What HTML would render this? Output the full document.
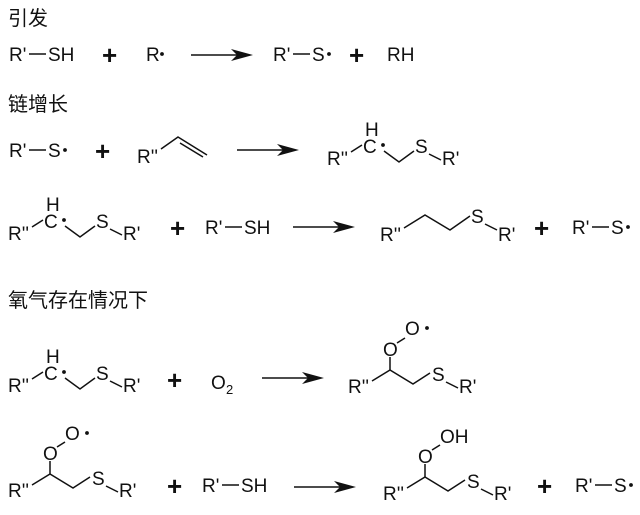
<!DOCTYPE html>
<html><head><meta charset="utf-8"><style>
html,body{margin:0;padding:0;background:#fff;}
svg{display:block;}
text{font-family:"Liberation Sans","Noto Sans CJK SC",sans-serif;font-size:19px;fill:#111;}
.h{font-size:20px;}
.p{font-size:26px;font-weight:bold;}
line,polyline{stroke:#111;stroke-width:1.5;fill:none;}
</style></head><body>
<svg width="640" height="515" viewBox="0 0 640 515" xmlns="http://www.w3.org/2000/svg">
<defs>
<g id="arr"><line x1="0" y1="0" x2="50" y2="0"/><path d="M62,0 L40,-6 L46,0 L40,6 Z" fill="#111"/></g>
<g id="rad">
<text x="0" y="0">R''</text>
<line x1="24" y1="-13" x2="35" y2="-20"/>
<text x="36" y="-12">C</text>
<text x="38" y="-29">H</text>
<circle cx="56" cy="-20" r="1.9" fill="#111"/>
<polyline points="57,-14 72,-3 87,-14"/>
<text x="88" y="-12">S</text>
<line x1="102" y1="-11" x2="114" y2="-5"/>
<text x="115" y="0">R'</text>
</g>
<g id="perox">
<text x="0" y="0">R''</text>
<polyline points="24,-12 42,-23 65,-9 82,-20"/>
<line x1="42" y1="-23" x2="42" y2="-36"/>
<text x="35" y="-37">O</text>
<line x1="49" y1="-50" x2="57" y2="-55"/>
<text x="84" y="-12">S</text>
<line x1="98" y1="-11" x2="110" y2="-5"/>
<text x="111" y="0">R'</text>
</g>
<g id="rsh"><text x="0" y="0">R'</text><line x1="20" y1="-7" x2="37" y2="-7"/><text x="39" y="0">SH</text></g>
<g id="rs"><text x="0" y="0">R'</text><line x1="20" y1="-7" x2="37" y2="-7"/><text x="39" y="0">S</text><circle cx="56" cy="-7" r="1.9" fill="#111"/></g>
</defs>

<text class="h" x="8" y="25">引发</text>
<text class="h" x="8" y="111">链增长</text>
<text class="h" x="8" y="307">氧气存在情况下</text>

<!-- row 1 -->
<use href="#rsh" x="9" y="61"/>
<text class="p" x="102" y="64">+</text>
<text x="146" y="61">R</text><circle cx="162" cy="54" r="1.9" fill="#111"/>
<use href="#arr" x="191" y="55"/>
<use href="#rs" x="273" y="61"/>
<text class="p" x="349" y="64">+</text>
<text x="387" y="61">RH</text>

<!-- row 2 -->
<use href="#rs" x="9" y="157"/>
<text class="p" x="95" y="160">+</text>
<text x="137" y="163">R''</text>
<polyline points="161,149 178,137 207,155"/>
<line x1="180" y1="143" x2="203" y2="157"/>
<use href="#arr" x="237" y="150"/>
<use href="#rad" x="327" y="165"/>

<!-- row 3 -->
<use href="#rad" x="8" y="240"/>
<text class="p" x="170" y="237">+</text>
<use href="#rsh" x="205" y="234"/>
<use href="#arr" x="293" y="227"/>
<text x="380" y="241">R''</text>
<polyline points="404,228 425,215 450,230 470,216"/>
<text x="471" y="223">S</text>
<line x1="485" y1="224" x2="497" y2="230"/>
<text x="498" y="241">R'</text>
<text class="p" x="534" y="237">+</text>
<use href="#rs" x="572" y="234"/>

<!-- row 4 -->
<use href="#rad" x="8" y="392"/>
<text class="p" x="167" y="389">+</text>
<text x="211" y="389">O</text><text x="226" y="394" style="font-size:13px">2</text>
<use href="#arr" x="262" y="378"/>
<use href="#perox" x="348" y="393"/>
<text x="405" y="335">O</text><circle cx="427" cy="328" r="1.9" fill="#111"/>

<!-- row 5 -->
<use href="#perox" x="8" y="497"/>
<text x="65" y="440">O</text><circle cx="87" cy="433" r="1.9" fill="#111"/>
<text class="p" x="167" y="495">+</text>
<use href="#rsh" x="202" y="492"/>
<use href="#arr" x="294" y="487"/>
<use href="#perox" x="383" y="500"/>
<text x="440" y="443">OH</text>
<text class="p" x="537" y="495">+</text>
<use href="#rs" x="575" y="492"/>
</svg>
</body></html>
